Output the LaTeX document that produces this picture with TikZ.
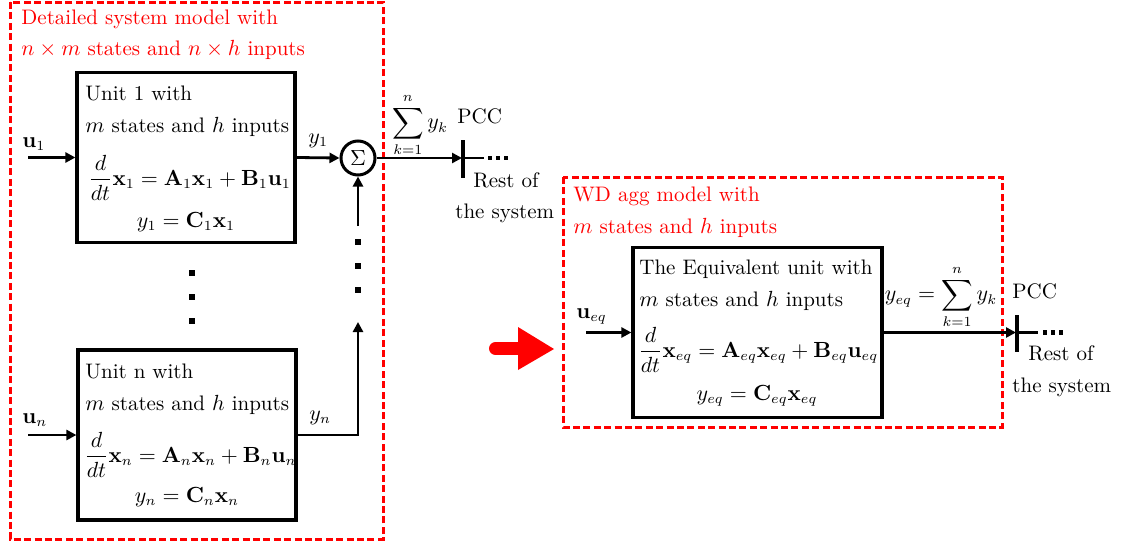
\documentclass[tikz,border=0pt]{standalone}
\usepackage{amsmath}
\usetikzlibrary{arrows.meta}
\begin{document}
\begin{tikzpicture}[x=0.5pt,y=-0.5pt,
 font=\fontsize{10.5}{12}\selectfont,
 blk/.style={draw, line width=1.6pt, inner sep=0pt},
 grp/.style={draw=red, line width=1.5pt, dash pattern=on 3.5pt off 1.7pt},
 arr/.style={line width=1.4pt, -{Triangle[length=5pt,width=5pt]}},
 wire/.style={line width=1.4pt},
 bar/.style={line width=1.6pt},
 txt/.style={anchor=base west, inner sep=0pt},
 ctxt/.style={anchor=base, inner sep=0pt},
 rtxt/.style={txt, text=red},
 dotsq/.style={fill, minimum size=3pt, inner sep=0pt},
 smalldot/.style={fill, minimum size=2.2pt, inner sep=0pt}
]
\useasboundingbox (0,0) rectangle (1125,546);

% ---------- left group ----------
\draw[grp] (10,2) rectangle (383,539);
\node[rtxt] (t1) at (21,25) {Detailed system model with};
\node[rtxt] (t2) at (21,55) {$n\times m$ states and $n\times h$ inputs};

\node[blk, minimum width=109pt, minimum height=85pt] (unit1) at (186,157.5) {};
\node[txt] (u1a) at (85,100) {Unit 1 with};
\node[txt] (u1b) at (85,132) {$m$ states and $h$ inputs};
\node[txt] (u1c) at (88,185) {$\displaystyle\frac{d}{dt}\mathbf{x}_1=\mathbf{A}_1\mathbf{x}_1+\mathbf{B}_1\mathbf{u}_1$};
\node[ctxt] (u1d) at (186,227) {$y_1=\mathbf{C}_1\mathbf{x}_1$};

\node[blk, minimum width=109pt, minimum height=85pt] (unitn) at (187,435) {};
\node[txt] (una) at (85,378) {Unit n with};
\node[txt] (unb) at (85,410) {$m$ states and $h$ inputs};
\node[txt] (unc) at (84,462) {$\displaystyle\frac{d}{dt}\mathbf{x}_n=\mathbf{A}_n\mathbf{x}_n+\mathbf{B}_n\mathbf{u}_n$};
\node[ctxt] (und) at (187,502) {$y_n=\mathbf{C}_n\mathbf{x}_n$};

\node[draw, circle, line width=1.5pt, minimum size=17pt, inner sep=0pt] (sig) at (358,158) {$\Sigma$};

% inputs
\coordinate (u1s) at (28,157.5);
\draw[arr] (u1s) -- (unit1.west);
\node[txt] (lu1) at (22,147) {$\mathbf{u}_1$};
\coordinate (uns) at (28,435);
\draw[arr] (uns) -- (unitn.west);
\node[txt] (lun) at (22,423) {$\mathbf{u}_n$};

% outputs
\draw[arr] (unit1.east) -- (sig.west);
\node[txt] (ly1) at (308,143) {$y_1$};
\coordinate (ynT) at (358,322);
\draw[arr] (unitn.east) -| (ynT);
\node[txt] (lyn) at (309,420) {$y_n$};
\coordinate (upS) at (358,226);
\draw[arr] (upS) -- (sig.south);

% dots
\node[dotsq] (dl1) at (192,273) {};
\node[dotsq] (dl2) at (192,297) {};
\node[dotsq] (dl3) at (192,321) {};
\node[dotsq] (dr1) at (358,242) {};
\node[dotsq] (dr2) at (358,266) {};
\node[dotsq] (dr3) at (358,290) {};

% PCC left
\coordinate (pcc1) at (462,158);
\coordinate (pcc1T) at (463,140);
\coordinate (pcc1B) at (463,178);
\coordinate (pcc1E) at (484,158);
\draw[arr] (sig.east) -- (pcc1);
\draw[bar] (pcc1T) -- (pcc1B);
\draw[wire] (pcc1) -- (pcc1E);
\node[smalldot] (ld1) at (490,158) {};
\node[smalldot] (ld2) at (498,158) {};
\node[smalldot] (ld3) at (506,158) {};
\node[inner sep=0pt] (sum1) at (420,125) {$\displaystyle\sum_{k=1}^{n} y_k$};
\node[txt] (pccl1) at (457,123) {PCC};
\node[txt] (rest1) at (473,187) {Rest of};
\node[txt] (sys1) at (455,218) {the system};

% ---------- big red arrow ----------
\draw[red, line width=6.5pt, line cap=round] (495.5,348.5) -- (522,348.5);
\fill[red] (518,327) -- (554,349) -- (518,370) -- cycle;

% ---------- right group ----------
\draw[grp] (563,177) rectangle (1002,427);
\node[rtxt] (t3) at (573,201) {WD agg model with};
\node[rtxt] (t4) at (573,233) {$m$ states and $h$ inputs};

\node[blk, minimum width=124.5pt, minimum height=85pt] (eqb) at (757.5,332.5) {};
\node[txt] (ea) at (639,274) {The Equivalent unit with};
\node[txt] (eb) at (639,306) {$m$ states and $h$ inputs};
\node[txt] (ec) at (638,357) {$\displaystyle\frac{d}{dt}\mathbf{x}_{eq}=\mathbf{A}_{eq}\mathbf{x}_{eq}+\mathbf{B}_{eq}\mathbf{u}_{eq}$};
\node[ctxt] (ed) at (757,400) {$y_{eq}=\mathbf{C}_{eq}\mathbf{x}_{eq}$};

\coordinate (ueqs) at (586,332.5);
\draw[arr] (ueqs) -- (eqb.west);
\node[txt] (lueq) at (576,318) {$\mathbf{u}_{eq}$};

\coordinate (pcc2) at (1016,332.5);
\coordinate (pcc2T) at (1017,315);
\coordinate (pcc2B) at (1017,352);
\coordinate (pcc2E) at (1038,332.5);
\draw[arr] (eqb.east) -- (pcc2);
\draw[bar] (pcc2T) -- (pcc2B);
\draw[wire] (pcc2) -- (pcc2E);
\node[smalldot] (rd1) at (1045,332.5) {};
\node[smalldot] (rd2) at (1053,332.5) {};
\node[smalldot] (rd3) at (1061,332.5) {};
\node[inner sep=0pt] (sum2) at (941,297) {$\displaystyle y_{eq}=\sum_{k=1}^{n} y_k$};
\node[txt] (pccl2) at (1012,298) {PCC};
\node[txt] (rest2) at (1028,360) {Rest of};
\node[txt] (sys2) at (1012,392) {the system};
\end{tikzpicture}
\end{document}
